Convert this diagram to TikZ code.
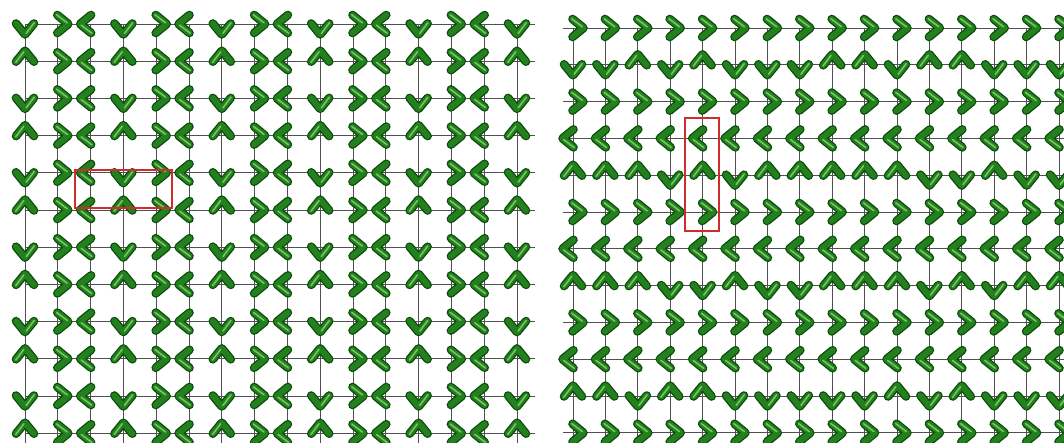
\documentclass[tikz,border=0pt]{standalone}
\definecolor{moldark}{RGB}{10,76,10}
\definecolor{molgreen}{RGB}{36,128,30}
\definecolor{mollight}{RGB}{120,196,100}
\definecolor{gridgray}{RGB}{80,80,80}
\definecolor{boxred}{RGB}{205,45,45}
\usepackage{tikz}
\usetikzlibrary{calc}

\tikzset{
  gridline/.style={gridgray, line width=0.9pt},
  chevline/.style={line cap=round, line join=round},
  selbox/.style={boxred, line width=1.2pt},
  chev/.pic={
    \draw[chevline, moldark, line width=8.6pt] (-0.5,9) -- (10.5,0) -- (-0.5,-9);
    \draw[chevline, molgreen, line width=6pt] (-0.5,9) -- (10.5,0) -- (-0.5,-9);
    \draw[chevline, mollight, line width=1.6pt] (-1.2,-9.2) -- (9.4,-1.2);
  }
}

\begin{document}
\begin{tikzpicture}[x=1pt, y=-1pt]
        \useasboundingbox (0,0) rectangle (1064,443);
        % Left lattice
        \foreach \j in {0,...,11}
          \draw[gridline] (25,{24+37.2*\j}) -- (535,{24+37.2*\j});
        \foreach \i in {0,...,15}
          \draw[gridline] ({25+32.8*\i},24) -- ({25+32.8*\i},443);
        % Left molecules: down/up pairs, then >< pairs
        \foreach \i in {0,...,15} {
          \pgfmathtruncatemacro\k{mod(\i,3)}
          \foreach \j in {0,...,11} {
            \pgfmathsetmacro\a{\k==0 ? (mod(\j,2)==0 ? -90 : 90) : (\k==1 ? 0 : 180)}
            \pic[rotate=\a] at ({25+32.8*\i},{24+37.2*\j}) {chev};
          }
        }
        % Right lattice
        \foreach \j in {0,...,11}
          \draw[gridline] (563,{28+36.8*\j}) -- (1064,{28+36.8*\j});
        \foreach \i in {0,...,15}
          \draw[gridline] ({573+32.4*\i},28) -- ({573+32.4*\i},443);
        % Right molecules: rows of > and <
        \foreach \j/\a in {0/0, 2/0, 3/180, 5/0, 6/180, 8/0, 9/180, 11/0}
          \foreach \i in {0,...,15}
            \pic[rotate=\a] at ({573+32.4*\i},{28+36.8*\j}) {chev};
        % Right molecules: mixed rows (u = up, d = down)
        \foreach \j/\row in {1/{d,d,u,d,u,d,d,d,u,u,d,u,u,d,d,d},
                             4/{u,u,u,d,u,d,u,u,u,u,u,d,d,u,d,d},
                             7/{u,u,u,d,d,u,d,d,u,u,u,d,u,d,u,u},
                             10/{u,u,d,u,u,d,d,d,d,d,u,d,u,d,d,d}}
          \foreach \s [count=\i from 0] in \row {
            \if\s u\def\a{90}\else\def\a{-90}\fi
            \pic[rotate=\a] at ({573+32.4*\i},{28+36.8*\j}) {chev};
          }
        % Unit cells
        \draw[selbox] (75,170) rectangle (172,208);
        \draw[selbox] (685,118) rectangle (719,231);
      \end{tikzpicture}
\end{document}
